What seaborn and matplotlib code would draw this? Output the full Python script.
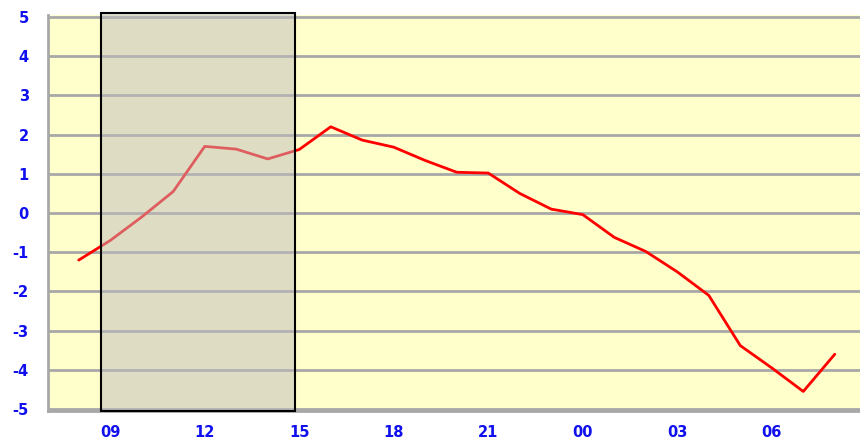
import matplotlib
matplotlib.use('Agg')
import matplotlib.pyplot as plt
import seaborn as sns
import pandas as pd

# hours: 08 .. 08 next day (24+ means next day)
horas = list(range(8, 33))
valores = [-1.2, -0.7, -0.1, 0.55, 1.7, 1.63, 1.38, 1.62, 2.2, 1.86, 1.68,
           1.34, 1.04, 1.02, 0.5, 0.1, -0.04, -0.62, -0.98, -1.5, -2.1,
           -3.38, -3.95, -4.55, -3.6]
ticks_x = [9, 12, 15, 18, 21, 24, 27, 30]
etiquetas_x = ['09', '12', '15', '18', '21', '00', '03', '06']
ticks_y = [-5, -4, -3, -2, -1, 0, 1, 2, 3, 4, 5]
zona = (8.7, 14.85)

df = pd.DataFrame({'hora': horas, 'valor': valores})

sns.set_style('white')
plt.rcParams['axes.unicode_minus'] = False
fig = plt.figure(figsize=(8.6, 4.42), dpi=100)
ax = fig.add_axes([0.056, 0.070, 0.944, 0.896])
ax.set_facecolor('#FFFFCC')

for y in ticks_y:
    ax.axhline(y, color='#A8A8A8', lw=2, zorder=1)

sns.lineplot(data=df, x='hora', y='valor', color='red', lw=2, ax=ax, zorder=3)

ax.axvspan(zona[0], zona[1], ymin=0, ymax=1.004,
           facecolor=(190/255, 188/255, 190/255, 0.5),
           edgecolor='black', lw=1.5, zorder=4, clip_on=False)

ax.set_xlim(7.03, 32.8)
ax.set_ylim(-5.05, 5.05)
ax.set_xticks(ticks_x)
ax.set_xticklabels(etiquetas_x)
ax.set_yticks(ticks_y)
ax.set_xlabel('')
ax.set_ylabel('')
ax.tick_params(axis='both', length=0, colors='#1010EE', labelsize=10.5)
ax.tick_params(axis='y', pad=14)
ax.tick_params(axis='x', pad=10)
for lab in ax.get_xticklabels() + ax.get_yticklabels():
    lab.set_fontweight('bold')

for s in ['top', 'right']:
    ax.spines[s].set_visible(False)
for s in ['left', 'bottom']:
    ax.spines[s].set_color('#A8A8A8')
    ax.spines[s].set_linewidth(2)

fig.savefig('out.png', dpi=100, facecolor='white')
